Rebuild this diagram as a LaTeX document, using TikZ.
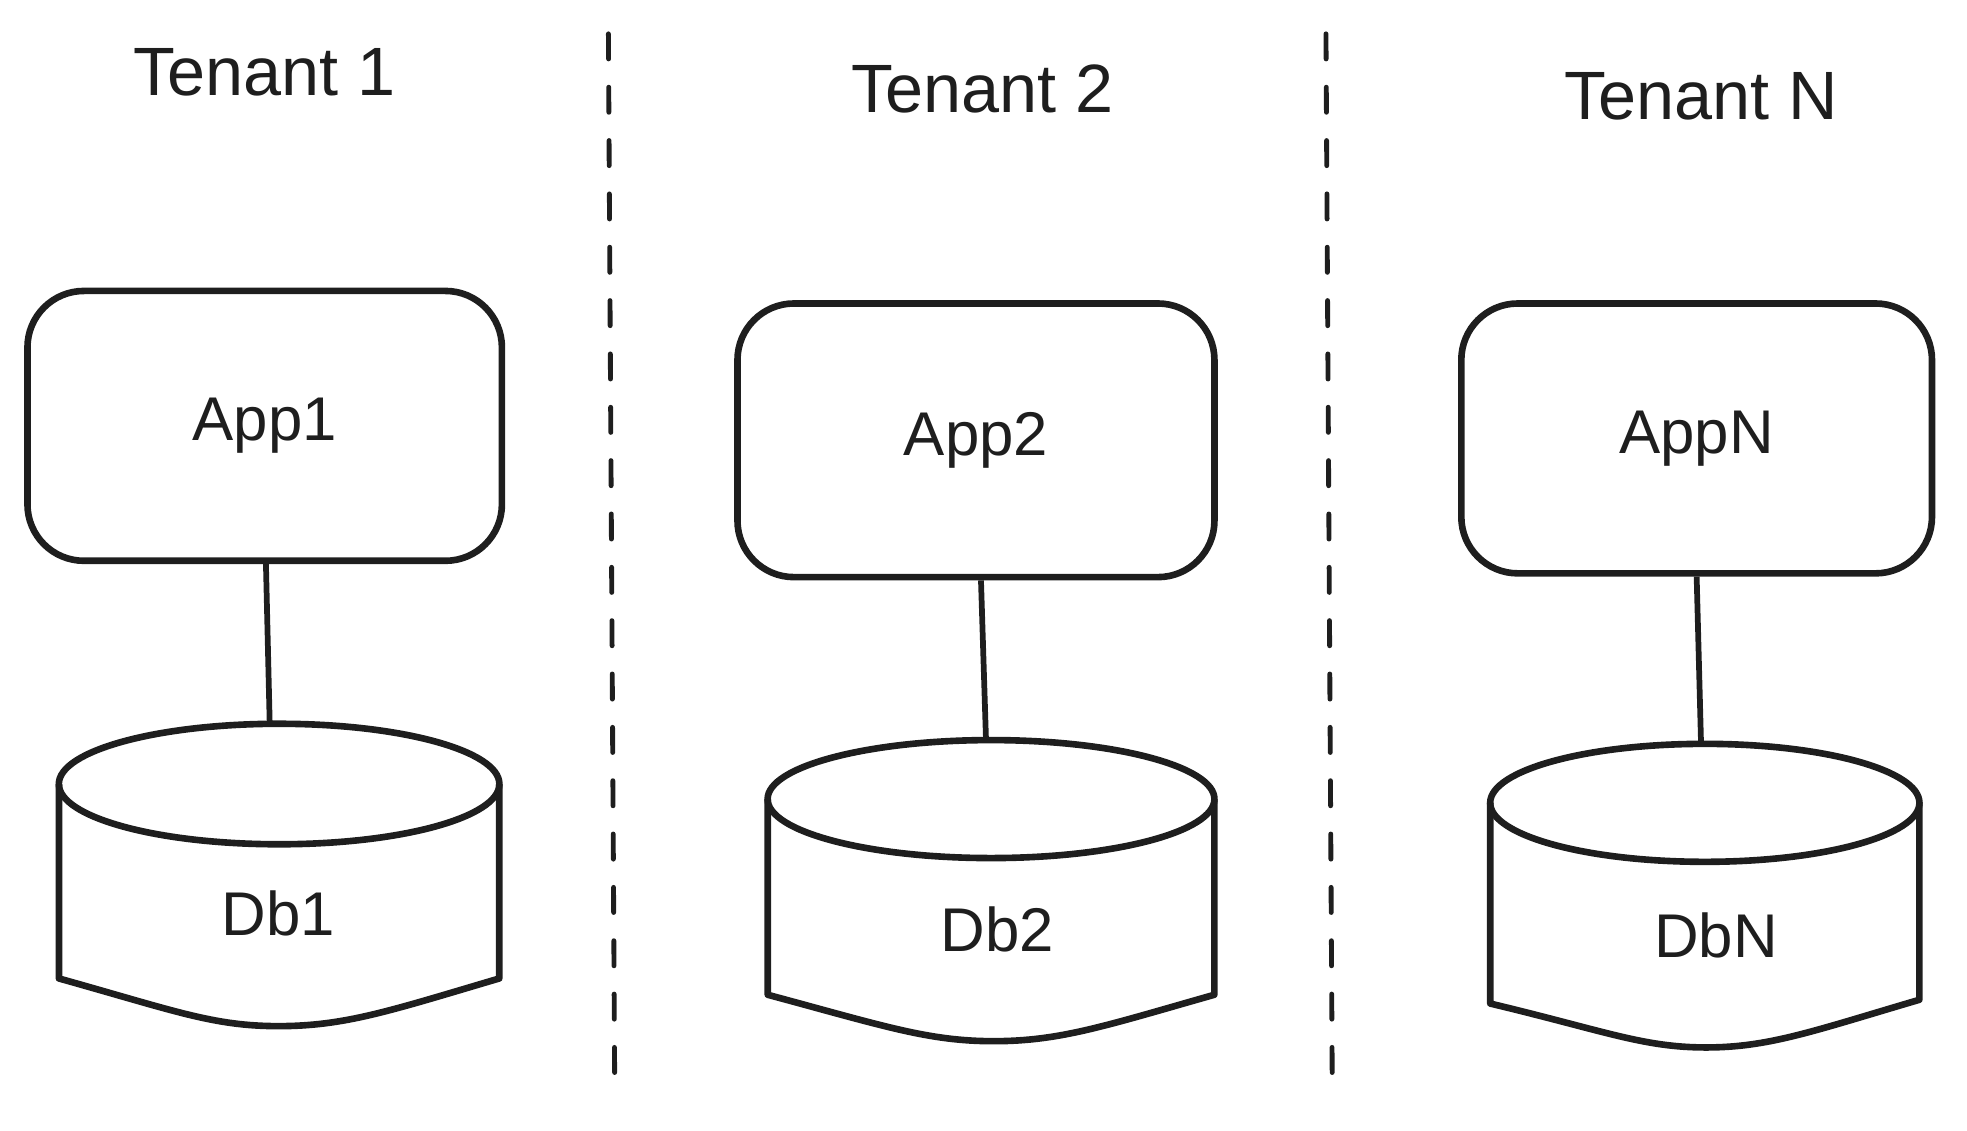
\documentclass[tikz,border=0pt]{standalone}
\usepackage{fontspec}
\setmainfont{Liberation Sans}
\definecolor{ink}{HTML}{1E1E1E}
\begin{document}
\begin{tikzpicture}[x=0.01cm,y=-0.01cm,every node/.style={font=\fontsize{14}{16}\selectfont,text=ink},
  app/.style={draw=ink,line width=1.5pt,rounded corners=0.45cm},
  db/.style={draw=ink,line width=1.5pt,line join=round},
  link/.style={draw=ink,line width=1.3pt},
  title/.style={font=\fontsize{15.5}{18}\selectfont},
  sep/.style={draw=ink,line width=1.1pt,line cap=round,dash pattern=on 0.2cm off 0.225cm}]

\useasboundingbox (0,0) rectangle (1568,901.6);

\draw[sep] (485,27)--(490,862);
\draw[sep] (1057,27)--(1062,862);

\node[title] (t1) at (211,58) {Tenant 1};
\node[title] (t2) at (783,71) {Tenant 2};
\node[title] (tn) at (1356,77) {Tenant N};

\node[app,minimum width=3.78cm,minimum height=2.15cm] (app1) at (211,339.5) {App1};
\node[app,minimum width=3.80cm,minimum height=2.18cm] (app2) at (778,351) {App2};
\node[app,minimum width=3.75cm,minimum height=2.15cm] (appn) at (1352.5,349.5) {AppN};

\draw[db] (222.5,625) ellipse [x radius=1.755cm,y radius=0.48cm];
\draw[db] (47,625)--(47,780) .. controls (140,806) and (170,818) .. (222,818) .. controls (275,818) and (310,806) .. (398,780)--(398,625);
\draw[db] (790,637) ellipse [x radius=1.78cm,y radius=0.47cm];
\draw[db] (612,637)--(612,793) .. controls (705,818) and (740,830) .. (792,830) .. controls (845,830) and (880,818) .. (968,793)--(968,637);
\draw[db] (1359,640) ellipse [x radius=1.71cm,y radius=0.47cm];
\draw[db] (1188,640)--(1188,800) .. controls (1280,822) and (1310,835) .. (1360,835) .. controls (1410,835) and (1445,822) .. (1530,797)--(1530,640);

\node (db1) at (222,728) {Db1};
\node (db2) at (795,741) {Db2};
\node (dbn) at (1368,746) {DbN};

\coordinate (db1top) at (215,577);
\coordinate (db2top) at (786,590);
\coordinate (dbntop) at (1356,593);

\draw[link] ([xshift=0.01cm]app1.south)--(db1top);
\draw[link] ([xshift=0.04cm]app2.south)--(db2top);
\draw[link] (appn.south)--(dbntop);

\end{tikzpicture}
\end{document}
